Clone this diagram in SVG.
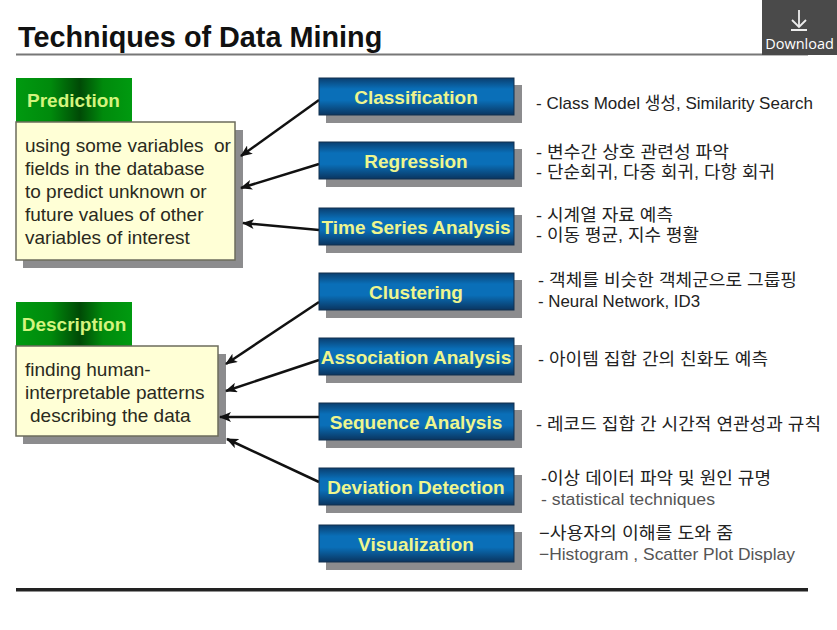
<svg xmlns="http://www.w3.org/2000/svg" width="837" height="630" viewBox="0 0 837 630">
<style>
text{font-family:"Liberation Sans","Noto Sans CJK KR",Arial,sans-serif}
.title{font-size:28.800px;font-weight:bold;fill:#111}
.btn{fill:url(#blue);stroke:#12314f;stroke-width:1}
.shadow{fill:#8c8c8e}
.bl{font-size:19px;font-weight:bold;fill:#eef58e;text-anchor:middle}
.tab{fill:url(#green)}
.tabt{font-size:19px;font-weight:bold;fill:#d4f47e;text-anchor:middle}
.note{fill:#ffffd6;stroke:#6c6c5c;stroke-width:1.500}
.nt{font-size:19px;fill:#2a2a20;white-space:pre}
.d{font-size:17px;fill:#222}
.g{fill:#555}
.c{stroke:#111;stroke-width:2.500;fill:none;marker-end:url(#a)}
</style>
<defs>
<linearGradient id="blue" x1="0" y1="0" x2="0" y2="1"><stop offset="0" stop-color="#0a3f70"/><stop offset=".3" stop-color="#0a6fb8"/><stop offset=".6" stop-color="#0a6fb8"/><stop offset="1" stop-color="#0a3560"/></linearGradient>
<linearGradient id="green" x1="0" y1="0" x2="1" y2="0"><stop offset="0" stop-color="#009a10"/><stop offset=".3" stop-color="#008a0c"/><stop offset=".55" stop-color="#004a06"/><stop offset=".75" stop-color="#008a0c"/><stop offset="1" stop-color="#009a10"/></linearGradient>
<marker id="a" viewBox="0 0 12 10" refX="11" refY="5" markerWidth="12" markerHeight="10" markerUnits="userSpaceOnUse" orient="auto"><path d="M0 0L12 5L0 10L3 5Z" fill="#111"/></marker>
</defs>
<rect width="837" height="630" fill="#fff"/>
<g id="title"><text class="title" x="18" y="47">Techniques of Data Mining</text><rect x="16" y="53.500" width="792" height="2" fill="#777"/></g>
<g id="download"><rect x="762" y="0" width="75" height="55" fill="#4a4a4a"/><path d="M799 10V26M792 20L799 27L806 20M791 30H807" stroke="#fff" stroke-width="1.800" fill="none" opacity=".9"/><text x="799.500" y="49" font-size="14.500" fill="#fff" text-anchor="middle" style="font-family:'Open Sans','Liberation Sans',sans-serif">Download</text></g>
<g id="prediction">
<rect class="tab" x="16" y="78" width="116" height="44"/>
<text class="tabt" x="73.500" y="107">Prediction</text>
<rect class="shadow" x="23" y="130" width="220" height="138"/>
<rect class="note" x="16" y="122" width="219" height="138"/>
<text class="nt" x="25" y="152">using some variables  or</text>
<text class="nt" x="25" y="175">fields in the database</text>
<text class="nt" x="25" y="198">to predict unknown or</text>
<text class="nt" x="25" y="221">future values of other</text>
<text class="nt" x="25" y="244">variables of interest</text>
</g>
<g id="description">
<rect class="tab" x="16" y="302" width="116" height="44"/>
<text class="tabt" x="74" y="331">Description</text>
<rect class="shadow" x="23" y="354" width="203" height="90"/>
<rect class="note" x="16" y="346" width="202" height="90"/>
<text class="nt" x="25" y="376">finding human-</text>
<text class="nt" x="25" y="399">interpretable patterns</text>
<text class="nt" x="30" y="422">describing the data</text>
</g>
<g id="connectors">
<line class="c" x1="319" y1="100" x2="241" y2="156"/>
<line class="c" x1="319" y1="164" x2="241" y2="188"/>
<line class="c" x1="319" y1="230" x2="243" y2="223"/>
<line class="c" x1="319" y1="302" x2="226" y2="364"/>
<line class="c" x1="319" y1="360" x2="226" y2="391"/>
<line class="c" x1="319" y1="417" x2="220" y2="417"/>
<line class="c" x1="319" y1="482" x2="227" y2="439"/>
</g>
<g id="classification"><rect class="shadow" x="326" y="85" width="196" height="38"/><rect class="btn" x="319" y="78" width="195" height="37"/><text class="bl" x="416" y="104">Classification</text></g>
<g id="regression"><rect class="shadow" x="326" y="149" width="196" height="38"/><rect class="btn" x="319" y="142" width="195" height="37"/><text class="bl" x="416" y="168">Regression</text></g>
<g id="timeseries"><rect class="shadow" x="326" y="215" width="196" height="38"/><rect class="btn" x="319" y="208" width="195" height="37"/><text class="bl" x="416" y="234">Time Series Analysis</text></g>
<g id="clustering"><rect class="shadow" x="326" y="280" width="196" height="38"/><rect class="btn" x="319" y="273" width="195" height="37"/><text class="bl" x="416" y="299">Clustering</text></g>
<g id="association"><rect class="shadow" x="326" y="345" width="196" height="38"/><rect class="btn" x="319" y="338" width="195" height="37"/><text class="bl" x="416" y="364">Association Analysis</text></g>
<g id="sequence"><rect class="shadow" x="326" y="410" width="196" height="38"/><rect class="btn" x="319" y="403" width="195" height="37"/><text class="bl" x="416" y="429">Sequence Analysis</text></g>
<g id="deviation"><rect class="shadow" x="326" y="475" width="196" height="38"/><rect class="btn" x="319" y="468" width="195" height="37"/><text class="bl" x="416" y="494">Deviation Detection</text></g>
<g id="visualization"><rect class="shadow" x="326" y="532" width="196" height="38"/><rect class="btn" x="319" y="525" width="195" height="37"/><text class="bl" x="416" y="551">Visualization</text></g>
<g id="notes">
<text class="d" x="536" y="109" textLength="277" lengthAdjust="spacingAndGlyphs">- Class Model 생성, Similarity Search</text>
<text class="d" x="536" y="158" textLength="193" lengthAdjust="spacingAndGlyphs">- 변수간 상호 관련성 파악</text>
<text class="d" x="536" y="178" textLength="239" lengthAdjust="spacingAndGlyphs">- 단순회귀, 다중 회귀, 다항 회귀</text>
<text class="d" x="536" y="221" textLength="137" lengthAdjust="spacingAndGlyphs">- 시계열 자료 예측</text>
<text class="d" x="536" y="241" textLength="163" lengthAdjust="spacingAndGlyphs">- 이동 평균, 지수 평활</text>
<text class="d" x="538" y="286" textLength="259" lengthAdjust="spacingAndGlyphs">- 객체를 비슷한 객체군으로 그룹핑</text>
<text class="d" x="538" y="307" textLength="162" lengthAdjust="spacingAndGlyphs">- Neural Network, ID3</text>
<text class="d" x="538" y="365" textLength="230" lengthAdjust="spacingAndGlyphs">- 아이템 집합 간의 친화도 예측</text>
<text class="d" x="536" y="430" textLength="285" lengthAdjust="spacingAndGlyphs">- 레코드 집합 간 시간적 연관성과 규칙</text>
<text class="d" x="541" y="484" textLength="230" lengthAdjust="spacingAndGlyphs">-이상 데이터 파악 및 원인 규명</text>
<text class="d g" x="541" y="505" textLength="174" lengthAdjust="spacingAndGlyphs">- statistical techniques</text>
<text class="d" x="539" y="539" textLength="194" lengthAdjust="spacingAndGlyphs">−사용자의 이해를 도와 줌</text>
<text class="d g" x="539" y="560" textLength="256" lengthAdjust="spacingAndGlyphs">−Histogram , Scatter Plot Display</text>
</g>
<g id="footer"><rect x="16" y="588" width="792" height="3.500" fill="#222"/></g>
</svg>
